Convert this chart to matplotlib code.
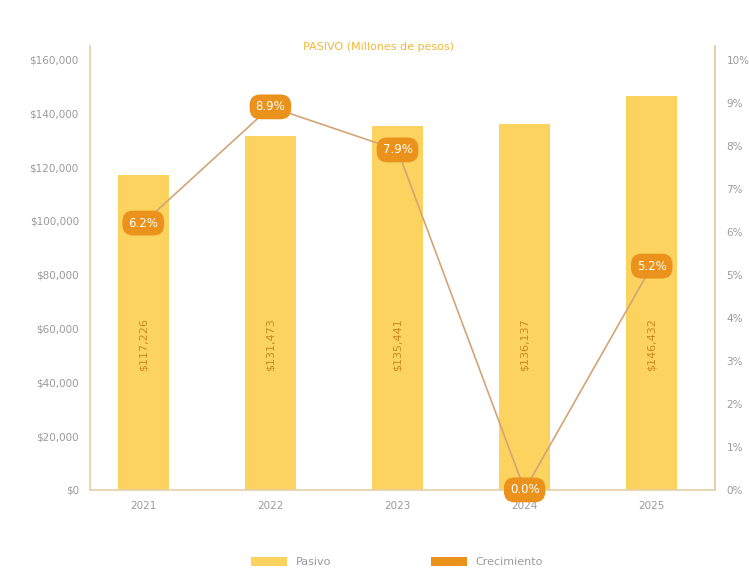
import matplotlib
matplotlib.use("Agg")
import matplotlib.pyplot as plt
from matplotlib.patches import Patch
from matplotlib.ticker import FuncFormatter

# Data
years = ["2021", "2022", "2023", "2024", "2025"]
pasivo = [117226, 131473, 135441, 136137, 146432]
crecimiento = [6.2, 8.9, 7.9, 0.0, 5.2]
pasivo_labels = ["$117,226", "$131,473", "$135,441", "$136,137", "$146,432"]
crec_labels = ["6.2%", "8.9%", "7.9%", "0.0%", "5.2%"]

BAR = "#FDD35F"
ORANGE = "#EA921C"
LINE = "#D2A478"
SPINE = "#E6CFA6"
TICK = "#9A9A9A"
TITLE = "#F2B83A"
BAR_TEXT = "#C98A1E"

fig = plt.figure(figsize=(7.49, 5.69), dpi=100)
ax = fig.add_axes([0.120, 0.139, 0.835, 0.780])
x = list(range(len(years)))

ax.bar(x, pasivo, width=0.40, color=BAR, zorder=2)
ax.set_xlim(-0.42, 4.5)
ax.set_ylim(0, 165000)
ax.set_yticks(range(0, 160001, 20000))
ax.yaxis.set_major_formatter(FuncFormatter(lambda v, p: f"${v:,.0f}"))
ax.set_xticks(x)
ax.set_xticklabels(years)
ax.tick_params(axis="both", length=0, colors=TICK, labelsize=7.5)
ax.tick_params(axis="x", pad=8)
ax.tick_params(axis="y", pad=8)
ax.spines["top"].set_visible(False)
for s in ("left", "right", "bottom"):
    ax.spines[s].set_color(SPINE)
    ax.spines[s].set_linewidth(1.2)

# Value labels inside bars
for xi, lab in zip(x, pasivo_labels):
    ax.text(xi, 54000, lab, rotation=90, ha="center", va="center",
            fontsize=8, color=BAR_TEXT, zorder=3)

# Growth line on secondary axis
ax2 = ax.twinx()
ax2.set_ylim(0, 165000 / 16000)
ax2.set_yticks(range(0, 11))
ax2.yaxis.set_major_formatter(FuncFormatter(lambda v, p: f"{v:.0f}%"))
ax2.tick_params(axis="y", length=0, colors=TICK, labelsize=7.5, pad=8)
for s in ("top", "left", "bottom"):
    ax2.spines[s].set_visible(False)
ax2.spines["right"].set_color(SPINE)
ax2.spines["right"].set_linewidth(1.2)

ax2.plot(x, crecimiento, color=LINE, linewidth=1.2, zorder=3)
for xi, v, lab in zip(x, crecimiento, crec_labels):
    ax2.text(xi, v, lab, ha="center", va="center", fontsize=8.5,
             color="white", zorder=4,
             bbox=dict(boxstyle="round,pad=0.5,rounding_size=0.9",
                       fc=ORANGE, ec="none"))

fig.text(0.505, 0.918, "PASIVO (Millones de pesos)", ha="center",
         va="center", fontsize=8, color=TITLE)

handles = [Patch(facecolor=BAR, label="Pasivo"),
           Patch(facecolor=ORANGE, label="Crecimiento")]
fig.legend(handles=handles, loc="center", bbox_to_anchor=(0.53, 0.012),
           ncol=2, frameon=False, fontsize=8, labelcolor=TICK,
           handlelength=3.2, handleheight=0.8, columnspacing=9)

fig.savefig("out.png", dpi=100, facecolor="white")
